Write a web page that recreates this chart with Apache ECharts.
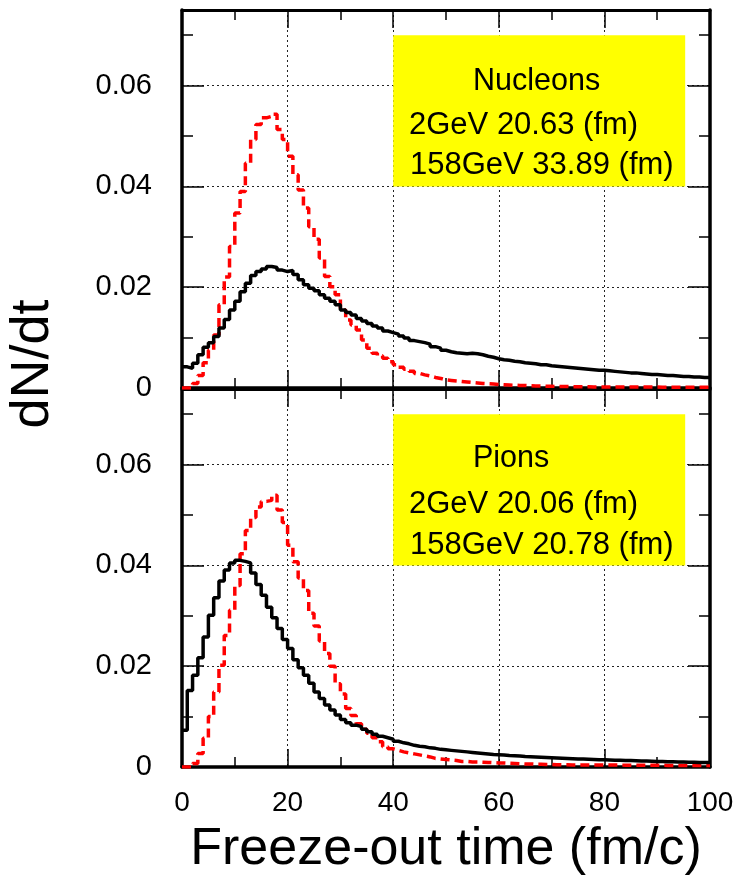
<!DOCTYPE html>
<html><head><meta charset="utf-8">
<script src="https://cdn.jsdelivr.net/npm/echarts@6/dist/echarts.min.js"></script>
<style>html,body{margin:0;padding:0;background:#fff}#c{width:738px;height:879px}</style>
</head><body><div id="c"></div>
<script>
// ---- data (dN/dt in units of 1e-3, one value per 1 fm/c bin, bins 0..99) ----
const binLowEdges = Array.from({length: 100}, (_, i) => i);
const xTickValues = [0, 20, 40, 60, 80, 100];
const yTickLabels = ['0', '0.02', '0.04', '0.06'];

const nucleonsBlack = [
  4.2,3.9,4.9,6.6,8.1,9.0,10.2,11.9,13.6,15.5,
  17.2,19.1,20.8,22.3,23.1,23.6,24.1,23.9,23.4,23.1,
  23.3,22.5,21.5,20.5,19.8,19.3,18.5,17.8,17.2,16.5,
  15.5,15.0,14.5,13.8,13.3,12.8,12.3,11.9,11.3,11.0,
  10.7,10.3,9.9,9.4,9.2,9.0,8.7,8.2,7.9,7.5,
  7.2,7.0,6.9,6.8,6.9,6.8,6.6,6.3,6.1,5.8,
  5.6,5.5,5.3,5.2,5.0,4.9,4.8,4.6,4.6,4.4,
  4.3,4.2,4.1,4.0,3.9,3.8,3.7,3.6,3.5,3.5,
  3.4,3.3,3.2,3.1,3.0,3.0,2.9,2.8,2.7,2.7,
  2.6,2.5,2.5,2.4,2.3,2.3,2.2,2.2,2.1,2.1];
const nucleonsRed = [
  0,0,0.9,2.5,5.0,7.5,10.5,16.5,22.0,28.1,
  34.7,39.0,44.6,49.3,52.3,53.6,53.9,54.3,51.3,49.3,
  46.0,42.3,39.3,35.7,32.0,29.5,25.8,22.1,20.1,18.5,
  15.5,13.5,12.5,11.5,9.5,7.9,6.9,6.4,5.9,5.2,
  4.6,4.1,3.7,3.3,2.9,2.6,2.4,2.1,1.9,1.6,
  1.5,1.4,1.3,1.2,1.1,1.0,0.9,0.85,0.8,0.7,
  0.65,0.6,0.55,0.5,0.5,0.45,0.4,0.4,0.35,0.35,
  0.3,0.3,0.3,0.25,0.25,0.25,0.25,0.2,0.2,0.2,
  0.2,0.2,0.2,0.2,0.2,0.18,0.18,0.18,0.18,0.18,
  0.16,0.16,0.16,0.16,0.15,0.15,0.15,0.15,0.15,0.15];
const pionsBlack = [
  7.3,15.2,18.2,21.7,25.8,30.1,33.6,36.9,39.1,40.5,
  41.0,40.8,40.5,38.5,36.2,34.1,31.7,29.6,27.5,25.3,
  23.5,21.3,19.7,18.2,16.6,14.9,13.6,12.3,11.3,10.3,
  9.4,8.8,8.3,8.0,7.5,7.0,6.5,6.1,5.8,5.5,
  5.1,4.8,4.6,4.3,4.1,4.0,3.8,3.7,3.5,3.4,
  3.3,3.2,3.1,3.0,2.9,2.8,2.7,2.6,2.5,2.45,
  2.4,2.3,2.25,2.2,2.1,2.05,2.0,1.95,1.9,1.85,
  1.8,1.75,1.7,1.65,1.6,1.6,1.55,1.5,1.45,1.45,
  1.4,1.35,1.35,1.3,1.3,1.25,1.2,1.2,1.15,1.1,
  1.1,1.05,1.05,1.0,1.0,0.95,0.95,0.9,0.9,0.9];
const pionsRed = [
  0,0,0.7,2.7,5.7,10.0,14.9,20.2,26.1,31.1,
  36.0,42.3,46.9,49.5,51.6,52.7,52.9,53.9,51.0,48.5,
  44.0,40.7,37.5,35.0,30.5,28.0,25.0,22.5,20.0,16.5,
  14.5,11.6,10.2,8.6,7.5,6.7,5.8,5.0,4.0,3.6,
  3.3,3.0,2.8,2.6,2.4,2.2,2.0,1.7,1.6,1.5,
  1.4,1.3,1.1,1.1,1.0,1.0,0.95,0.9,0.85,0.8,
  0.8,0.75,0.7,0.65,0.6,0.6,0.55,0.55,0.5,0.5,
  0.45,0.45,0.45,0.4,0.4,0.4,0.4,0.4,0.4,0.4,
  0.4,0.38,0.38,0.36,0.36,0.35,0.35,0.34,0.34,0.33,
  0.33,0.32,0.32,0.31,0.31,0.3,0.3,0.3,0.3,0.3];

const panelTitles = ['Nucleons', 'Pions'];
const panelLine2 = ['2GeV 20.63 (fm)', '2GeV 20.06 (fm)'];
const panelLine3 = ['158GeV 33.89 (fm)', '158GeV 20.78 (fm)'];
const boxX = [40, 95.3];
const boxY = [0.04, 0.07];

// ---- chart ----
const FONT = 'Liberation Sans, Arial, Helvetica, sans-serif';
const chart = echarts.init(document.getElementById('c'), null, {renderer: 'canvas'});

function hist(arr) {
  const d = arr.map((v, i) => [binLowEdges[i], v / 1000]);
  d.push([100, arr[arr.length - 1] / 1000]);
  return d;
}
const dotted = {show: true, lineStyle: {color: '#222', width: 1, type: [2, 3]}};
const tickStyle = {color: '#000', width: 1.5};

function xAxes(g) {
  const base = {gridIndex: g, type: 'value', min: xTickValues[0], max: xTickValues[xTickValues.length - 1], interval: 20};
  return [
    Object.assign({}, base, {
      position: 'bottom',
      axisLine: {show: true, onZero: false, lineStyle: {color: '#000', width: 3.5}},
      axisTick: {show: true, inside: true, length: 18, lineStyle: tickStyle},
      minorTick: {show: true, splitNumber: 2, length: 10, lineStyle: tickStyle},
      splitLine: dotted,
      axisLabel: {show: g === 1, fontSize: 28, color: '#000', fontFamily: FONT, margin: 22},
      name: g === 1 ? 'Freeze-out time (fm/c)' : '',
      nameLocation: 'middle', nameGap: 57,
      nameTextStyle: {fontSize: 52, color: '#000', fontFamily: FONT}
    }),
    Object.assign({}, base, {
      position: 'top',
      axisLine: {show: true, onZero: false, lineStyle: {color: '#000', width: 3}},
      axisTick: {show: true, inside: true, length: 18, lineStyle: tickStyle},
      minorTick: {show: true, splitNumber: 2, length: 10, lineStyle: tickStyle},
      splitLine: {show: false},
      axisLabel: {show: false}
    })
  ];
}
function yAxes(g) {
  const base = {gridIndex: g, type: 'value', min: 0, max: 0.075};
  const mk = (pos, major) => Object.assign({}, base, {
    position: pos,
    interval: major ? 0.02 : 0.01,
    axisLine: {show: major, onZero: false, lineStyle: {color: '#000', width: 3.5}},
    axisTick: {show: true, inside: true, length: major ? 22 : 11, lineStyle: tickStyle},
    splitLine: (major && pos === 'left') ? dotted : {show: false},
    axisLabel: (major && pos === 'left') ? {
      show: true, showMaxLabel: false, fontSize: 29, color: '#000', fontFamily: FONT, margin: 30,
      formatter: v => { const k = Math.round(v / 0.02); return (k >= 0 && k < yTickLabels.length && Math.abs(v - k * 0.02) < 1e-9) ? yTickLabels[k] : ''; }
    } : {show: false}
  });
  return [mk('left', true), mk('left', false), mk('right', true), mk('right', false)];
}

const panels = [[nucleonsBlack, nucleonsRed], [pionsBlack, pionsRed]];
const series = [];
panels.forEach((p, g) => {
  series.push({
    type: 'line', xAxisIndex: g * 2, yAxisIndex: g * 4, data: hist(p[1]), step: 'end',
    symbol: 'none', silent: true, z: 3,
    lineStyle: {color: '#ff0000', width: 3.5, type: [9, 5]}
  });
  series.push({
    type: 'line', xAxisIndex: g * 2, yAxisIndex: g * 4, data: hist(p[0]), step: 'end',
    symbol: 'none', silent: true, z: 4,
    lineStyle: {color: '#000', width: 3.5},
    markArea: {silent: true, itemStyle: {color: '#ffff00', opacity: 1},
      data: [[{coord: [boxX[0], boxY[1]]}, {coord: [boxX[1], boxY[0]]}]]}
  });
});

const textStyle = (t, sz) => ({text: t, fontSize: sz, fontFamily: FONT, fill: '#000', align: 'left', verticalAlign: 'middle'});
const graphic = [
  {type: 'text', x: 33, y: 364, rotation: Math.PI / 2,
   style: {text: 'dN/dt', fontSize: 54, fontFamily: FONT, fill: '#000', align: 'center', verticalAlign: 'middle'}, z: 10},
  {type: 'text', x: 473, y: 82, style: textStyle(panelTitles[0], 30.5), z: 10},
  {type: 'text', x: 409, y: 125.5, style: textStyle(panelLine2[0], 31), z: 10},
  {type: 'text', x: 410, y: 165, style: textStyle(panelLine3[0], 31), z: 10},
  {type: 'text', x: 473, y: 459, style: textStyle(panelTitles[1], 30.5), z: 10},
  {type: 'text', x: 409, y: 504, style: textStyle(panelLine2[1], 31), z: 10},
  {type: 'text', x: 410, y: 545, style: textStyle(panelLine3[1], 31), z: 10}
];

chart.setOption({
  animation: false,
  backgroundColor: '#fff',
  grid: [
    {left: 182, top: 10, width: 528, height: 378},
    {left: 182, top: 389, width: 528, height: 378}
  ],
  xAxis: xAxes(0).concat(xAxes(1)),
  yAxis: yAxes(0).concat(yAxes(1)),
  series: series,
  graphic: graphic
});
</script>
</body></html>
